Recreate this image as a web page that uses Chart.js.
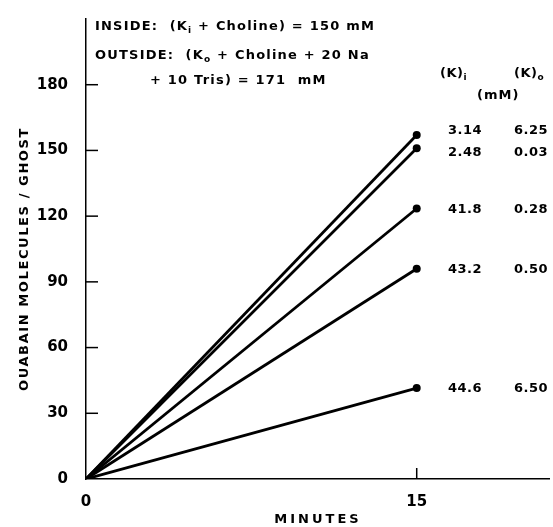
<!DOCTYPE html>
<html>
<head>
<meta charset="utf-8">
<script src="https://cdn.jsdelivr.net/npm/chart.js@4/dist/chart.umd.min.js"></script>
<style>
  html, body { margin: 0; padding: 0; background: #fff; }
  #wrap { width: 553px; height: 527px; }
</style>
</head>
<body>
<div id="wrap"><canvas id="grafica" width="553" height="527"></canvas></div>
<script>
// datos
const minutes = [0, 15];
const run314 = [0, 157];
const run248 = [0, 151];
const run418 = [0, 123.5];
const run432 = [0, 96];
const run446 = [0, 41.5];
const kInside = ['3.14', '2.48', '41.8', '43.2', '44.6'];
const kOutside = ['6.25', '0.03', '0.28', '0.50', '6.50'];
const yTicks = [0, 30, 60, 90, 120, 150, 180];
const xTicks = [0, 15];

const series = [run314, run248, run418, run432, run446];
const labelShift = [-4.5, 4.5, 1, 1, 1];

const FONT = '"DejaVu Sans", sans-serif';

function drawRuns(ctx, x, y, runs, size, spacing) {
    // runs: [texto, esSubindice]
    ctx.textAlign = 'left';
    ctx.textBaseline = 'alphabetic';
    runs.forEach(function (r) {
        const sub = r[1];
        ctx.font = 'bold ' + (sub ? Math.round(size * 0.7) : size) + 'px ' + FONT;
        ctx.letterSpacing = spacing + 'px';
        ctx.fillText(r[0], x, sub ? y + 3 : y);
        x += ctx.measureText(r[0]).width;
    });
}

const textos = {
    id: 'textos',
    afterDraw: function (chart) {
        const ctx = chart.ctx;
        const xs = chart.scales.x, ys = chart.scales.y;
        ctx.save();
        ctx.fillStyle = '#000';
        ctx.strokeStyle = '#000';

        // marcas de los ejes hacia dentro
        ctx.lineWidth = 1.5;
        yTicks.forEach(function (v) {
            if (v === 0) return;
            const py = ys.getPixelForValue(v);
            ctx.beginPath();
            ctx.moveTo(xs.left, py);
            ctx.lineTo(xs.left + 12, py);
            ctx.stroke();
        });
        xTicks.forEach(function (v) {
            if (v === 0) return;
            const px = xs.getPixelForValue(v);
            ctx.beginPath();
            ctx.moveTo(px, ys.bottom);
            ctx.lineTo(px, ys.bottom - 11);
            ctx.stroke();
        });

        // titulos de ejes
        ctx.font = 'bold 13px ' + FONT;
        ctx.letterSpacing = '3px';
        ctx.textAlign = 'center';
        ctx.textBaseline = 'middle';
        ctx.fillText('MINUTES', 318, 520);

        ctx.save();
        ctx.translate(25, 259);
        ctx.rotate(-Math.PI / 2);
        ctx.font = 'bold 13px ' + FONT;
        ctx.letterSpacing = '1.6px';
        ctx.fillText('OUABAIN MOLECULES / GHOST', 0, 0);
        ctx.restore();

        // leyenda de condiciones
        drawRuns(ctx, 95, 30, [['INSIDE:  (K', 0], ['i', 1], [' + Choline) = 150 mM', 0]], 13, 1.2);
        drawRuns(ctx, 95, 59, [['OUTSIDE:  (K', 0], ['o', 1], [' + Choline + 20 Na', 0]], 13, 1.2);
        drawRuns(ctx, 150, 84, [['+ 10 Tris) = 171  mM', 0]], 13, 1.2);

        drawRuns(ctx, 440, 77, [['(K)', 0], ['i', 1]], 13, 0.5);
        drawRuns(ctx, 514, 77, [['(K)', 0], ['o', 1]], 13, 0.5);
        drawRuns(ctx, 477, 99, [['(mM)', 0]], 13, 1);

        // valores de (K)i y (K)o
        ctx.font = 'bold 13px ' + FONT;
        ctx.letterSpacing = '0.5px';
        ctx.textAlign = 'center';
        ctx.textBaseline = 'middle';
        series.forEach(function (s, i) {
            const py = ys.getPixelForValue(s[1]) + labelShift[i];
            ctx.fillText(kInside[i], 465, py);
            ctx.fillText(kOutside[i], 531, py);
        });
        ctx.restore();
    }
};

const ctx = document.getElementById('grafica').getContext('2d');
new Chart(ctx, {
    type: 'line',
    data: {
        datasets: series.map(function (s) {
            return {
                data: minutes.map(function (m, i) { return { x: m, y: s[i] }; }),
                borderColor: '#000',
                backgroundColor: '#000',
                borderWidth: 2.8,
                pointRadius: [0, 4],
                pointBorderWidth: 0,
                fill: false
            };
        })
    },
    options: {
        responsive: false,
        animation: false,
        layout: { padding: { top: 18, right: 3, left: 0, bottom: 0 } },
        plugins: { legend: { display: false }, tooltip: { enabled: false } },
        scales: {
            x: {
                type: 'linear',
                min: 0,
                max: 21,
                afterBuildTicks: function (s) { s.ticks = xTicks.map(function (v) { return { value: v }; }); },
                afterFit: function (s) { s.height = 48; },
                grid: { display: false },
                border: { display: true, color: '#000', width: 1.5 },
                ticks: { color: '#000', padding: 6, maxRotation: 0, font: { family: FONT, size: 15, weight: 'bold' } }
            },
            y: {
                type: 'linear',
                min: 0,
                max: 210,
                afterBuildTicks: function (s) { s.ticks = yTicks.map(function (v) { return { value: v }; }); },
                afterFit: function (s) { s.width = 86; },
                grid: { display: false },
                border: { display: true, color: '#000', width: 1.5 },
                ticks: { color: '#000', padding: 10, font: { family: FONT, size: 15, weight: 'bold' } }
            }
        }
    },
    plugins: [textos]
});
</script>
</body>
</html>
